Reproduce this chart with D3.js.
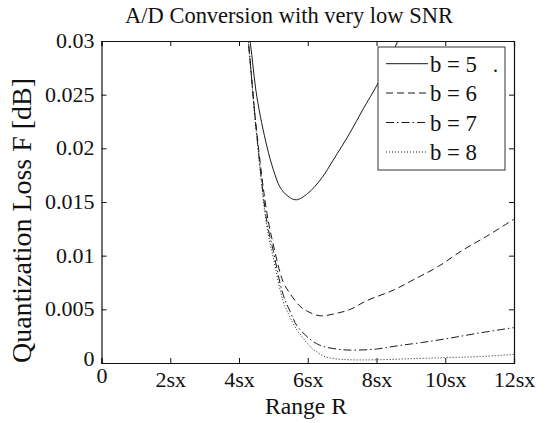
<!DOCTYPE html>
<html>
<head>
<meta charset="utf-8">
<script src="https://cdn.jsdelivr.net/npm/d3@7"></script>
<style>
  html, body { margin: 0; padding: 0; background: #fff; }
  svg { display: block; }
</style>
</head>
<body>
<svg id="chart" width="555" height="423"></svg>
<script>
// ---- data ----
const xTickValues = [0, 2, 4, 6, 8, 10, 12];
const xTickLabels = ["0", "2sx", "4sx", "6sx", "8sx", "10sx", "12sx"];
const yTickValues = [0, 0.005, 0.01, 0.015, 0.02, 0.025, 0.03];
const yTickLabels = ["0", "0.005", "0.01", "0.015", "0.02", "0.025", "0.03"];

const seriesNames = ["b = 5", "b = 6", "b = 7", "b = 8"];

const rB5 = [4.2, 4.33, 4.52, 4.81, 5.0, 5.19, 5.4, 5.66, 6.0, 6.4, 6.74, 7.22, 7.6, 8.05, 8.62, 9.0];
const fB5 = [0.0325, 0.0298, 0.0248, 0.0202, 0.0180, 0.0164, 0.0156, 0.0152, 0.0158, 0.0172, 0.0189, 0.0214, 0.0236, 0.0261, 0.0300, 0.0328];

const rB6 = [4.18, 4.27, 4.5, 4.81, 5.0, 5.28, 5.5, 5.77, 6.0, 6.35, 6.8, 7.24, 7.71, 8.5, 9.1, 9.8, 10.5, 11.2, 12.0];
const fB6 = [0.0325, 0.0300, 0.0220, 0.0140, 0.0110, 0.0076, 0.0064, 0.0053, 0.0048, 0.0044, 0.0046, 0.0050, 0.0058, 0.0068, 0.0078, 0.0090, 0.0105, 0.0118, 0.0134];

const rB7 = [4.18, 4.27, 4.5, 4.81, 5.0, 5.28, 5.5, 5.68, 6.0, 6.26, 6.5, 6.84, 7.24, 8.0, 8.6, 9.3, 10.1, 11.0, 12.0];
const fB7 = [0.0325, 0.0300, 0.0218, 0.0132, 0.0104, 0.0064, 0.0047, 0.0035, 0.0024, 0.0018, 0.0015, 0.0013, 0.0012, 0.0013, 0.0016, 0.0019, 0.0023, 0.0028, 0.0033];

const rB8 = [4.18, 4.27, 4.5, 4.81, 5.0, 5.28, 5.48, 5.7, 5.87, 6.05, 6.26, 6.5, 6.8, 7.2, 8.0, 9.0, 10.0, 11.0, 12.0];
const fB8 = [0.0325, 0.0300, 0.0216, 0.0127, 0.0098, 0.0058, 0.0043, 0.0030, 0.0023, 0.0016, 0.00105, 0.0006, 0.0004, 0.0003, 0.0003, 0.0004, 0.0005, 0.0006, 0.0008];

// ---- layout ----
const FONT = "Liberation Serif";
const INK = "#111";
const svg = d3.select("#chart");
const pLeft = 101.5, pRight = 514, pTop = 41, pBottom = 363;

const x = d3.scaleLinear().domain([0, 12]).range([pLeft, pRight]);
const y = d3.scaleLinear().domain([0, 0.03]).range([pBottom, pTop]);

const series = [
  { name: seriesNames[0], r: rB5, f: fB5, dash: null },
  { name: seriesNames[1], r: rB6, f: fB6, dash: "7,4" },
  { name: seriesNames[2], r: rB7, f: fB7, dash: "8,3,1.5,3" },
  { name: seriesNames[3], r: rB8, f: fB8, dash: "1,2" }
];

// size a text so that its width matches the reference width
function fitText(sel, targetWidth) {
  sel.style("font-size", "20px");
  const w = sel.node().getComputedTextLength();
  if (w > 0) sel.style("font-size", (20 * targetWidth / w).toFixed(2) + "px");
  return sel;
}

svg.append("defs").append("clipPath").attr("id", "clip")
  .append("rect").attr("x", pLeft).attr("y", pTop)
  .attr("width", pRight - pLeft).attr("height", pBottom - pTop);

// curves
const line = d3.line().x(d => x(d[0])).y(d => y(d[1])).curve(d3.curveCatmullRom.alpha(0.5));
const g = svg.append("g").attr("clip-path", "url(#clip)");
series.forEach(s => {
  const pts = s.r.map((v, i) => [v, s.f[i]]);
  g.append("path").datum(pts)
    .attr("d", line)
    .attr("fill", "none")
    .attr("stroke", "#1a1a1a")
    .attr("stroke-width", 1)
    .attr("stroke-dasharray", s.dash);
});

// axes (MATLAB-style boxed, ticks inward)
const tickLen = 5;
const xAxisB = d3.axisBottom(x).tickValues(xTickValues).tickSize(-tickLen).tickFormat((d, i) => xTickLabels[i]).tickPadding(0);
const xAxisT = d3.axisTop(x).tickValues(xTickValues).tickSize(-tickLen).tickFormat("");
const yAxisL = d3.axisLeft(y).tickValues(yTickValues).tickSize(-tickLen).tickFormat((d, i) => yTickLabels[i]).tickPadding(7);
const yAxisR = d3.axisRight(y).tickValues(yTickValues).tickSize(-tickLen).tickFormat("");

function style(sel) {
  sel.attr("font-family", FONT).attr("font-size", 22);
  sel.select(".domain").attr("stroke", INK).attr("stroke-width", 1.2);
  sel.selectAll(".tick line").attr("stroke", INK);
  sel.selectAll(".tick text").style("font-family", FONT).style("font-size", "22px").attr("fill", INK);
}

const gxB = svg.append("g").attr("transform", `translate(0,${pBottom})`).call(xAxisB).call(style);
svg.append("g").attr("transform", `translate(0,${pTop})`).call(xAxisT).call(style);
const gyL = svg.append("g").attr("transform", `translate(${pLeft},0)`).call(yAxisL).call(style);
svg.append("g").attr("transform", `translate(${pRight},0)`).call(yAxisR).call(style);

// x tick labels: baseline ~23.5px below axis; the origin label sits a bit higher
gxB.selectAll(".tick text").attr("y", 23.5).attr("dy", null);
gxB.selectAll(".tick").filter(d => d === 0).select("text").attr("y", 19.5);
gyL.selectAll(".tick text").attr("dy", "0.3em");
gyL.selectAll(".tick").filter(d => d === 0).select("text").attr("dy", "0.1em");

// legend
const lg = svg.append("g");
const lgX = 378, lgY = 47, lgW = 127, lgH = 123;
lg.append("rect").attr("x", lgX).attr("y", lgY).attr("width", lgW).attr("height", lgH)
  .attr("fill", "#fff").attr("stroke", "#333").attr("stroke-width", 1);
const rowBase = [71.7, 101, 130.5, 160];
series.forEach((s, i) => {
  lg.append("line")
    .attr("x1", 386).attr("x2", 428)
    .attr("y1", rowBase[i] - 8).attr("y2", rowBase[i] - 8)
    .attr("stroke", "#1a1a1a").attr("stroke-width", 1)
    .attr("stroke-dasharray", s.dash);
  const t = lg.append("text").attr("x", 430).attr("y", rowBase[i])
    .style("font-family", FONT).attr("fill", INK).text(s.name);
  fitText(t, 47);
});
lg.append("text").attr("x", 493).attr("y", 72).style("font-family", FONT)
  .style("font-size", "20px").attr("fill", INK).text(".");

// title and axis labels
fitText(svg.append("text").attr("x", 289).attr("y", 22.5).attr("text-anchor", "middle")
  .style("font-family", FONT).attr("fill", INK)
  .text("A/D Conversion with very low SNR"), 328);
fitText(svg.append("text").attr("x", 306).attr("y", 414).attr("text-anchor", "middle")
  .style("font-family", FONT).attr("fill", INK)
  .text("Range R"), 82);
fitText(svg.append("text").attr("transform", `translate(31,220.5) rotate(-90)`)
  .attr("text-anchor", "middle")
  .style("font-family", FONT).attr("fill", INK)
  .text("Quantization Loss F [dB]"), 285);
</script>
</body>
</html>
